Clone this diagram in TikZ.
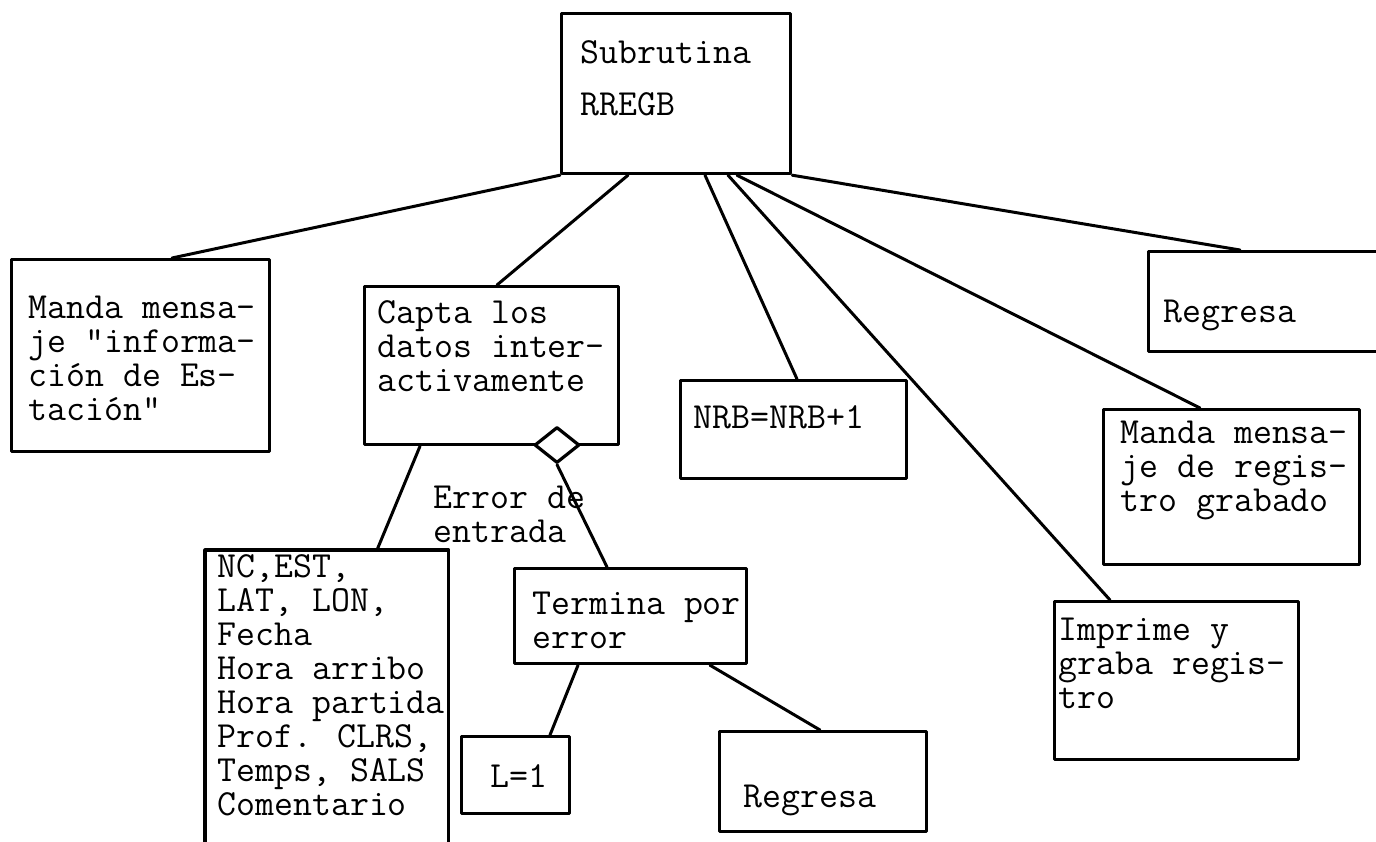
\documentclass[tikz,border=0pt]{standalone}
\usepackage{fontspec}
\usetikzlibrary{shapes.geometric,calc}
\begin{document}
\begin{tikzpicture}[x=0.5pt,y=-0.5pt,
  box/.style={draw, line width=1.6pt, line join=round, rectangle, inner sep=0pt, anchor=north west},
  frame/.style={rectangle, inner sep=0pt, anchor=north west},
  % multi-line texts are placed by the baseline of their last line
  txt/.style={font=\ttfamily\fontsize{18.4pt}{17pt}\selectfont, inner sep=0pt, anchor=base west, align=left},
  link/.style={line width=1.5pt, line cap=round},
  decision/.style={draw, diamond, fill=white, line width=1.6pt, line join=round, inner sep=0pt,
                   minimum width=22.5pt, minimum height=18pt}]
\useasboundingbox (0,0) rectangle (1376,841);
\clip (0,0) rectangle (1376,841);

% boxes
\node[box, minimum width=114.5pt, minimum height=80pt]   (top)   at (560,12)   {};
\node[box, minimum width=129pt,   minimum height=96pt]   (man1)  at (10,258)   {};
\node[box, minimum width=127pt,   minimum height=79pt]   (capta) at (363,285)  {};
\node[box, minimum width=113pt,   minimum height=49pt]   (nrb)   at (679,379)  {};
\node[box, minimum width=122pt,   minimum height=79pt]   (imp)   at (1053,600) {};
\node[box, minimum width=128pt,   minimum height=77.5pt] (reg)   at (1102,408) {};
\node[box, minimum width=126.5pt, minimum height=50pt]   (ret)   at (1147,250) {};
\node[box, minimum width=116pt,   minimum height=47.5pt] (term)  at (513,567)  {};
\node[box, minimum width=54pt,    minimum height=38.5pt] (lone)  at (460,735)  {};
\node[box, minimum width=103.5pt, minimum height=50pt]   (ret2)  at (718,730)  {};
% data list box, open at the bottom
\node[frame, minimum width=121.5pt, minimum height=175pt] (nc) at (205,550) {};
\draw[line width=1.6pt, line join=round] (nc.south west) -- (nc.north west) -- (nc.north east) -- (nc.south east);

% decision diamond on the bottom edge of the input box
\node[decision] (dia) at (557,445) {};

% connectors
\draw[link] (top.south west) -- ($(man1.north west)+(162,0)$);
\draw[link] ($(top.south west)+(68,0)$) -- ($(capta.north west)+(134,0)$);
\draw[link] ($(top.south west)+(145,0)$) -- ($(nrb.north west)+(118,0)$);
\draw[link] ($(top.south west)+(168,0)$) -- ($(imp.north west)+(57,0)$);
\draw[link] ($(top.south west)+(177,0)$) -- ($(reg.north west)+(98,0)$);
\draw[link] (top.south east) -- ($(ret.north west)+(93,0)$);
\draw[link] ($(capta.south west)+(57,0)$) -- ($(nc.north west)+(172,0)$);
\draw[link] (dia.south) -- ($(term.north west)+(94,0)$);
\draw[link] ($(term.south west)+(65,0)$) -- ($(lone.north west)+(90,0)$);
\draw[link] ($(term.south west)+(197,0)$) -- ($(ret2.north west)+(102,0)$);

% texts
\node[txt] (top-t)   at (580,115)  {Subrutina\\[9pt]RREGB};
\node[txt] (man1-t)  at (28,420)   {Manda mensa-\\je "informa-\\ción de Es-\\tación"};
\node[txt] (capta-t) at (377,391)  {Capta los\\datos inter-\\activamente};
\node[txt] (nrb-t)   at (693,428)  {NRB=NRB+1};
\node[txt] (imp-t)   at (1058,708) {Imprime y\\graba regis-\\tro};
\node[txt] (reg-t)   at (1120,511) {Manda mensa-\\je de regis-\\tro grabado};
\node[txt] (ret-t)   at (1163,322) {Regresa};
\node[txt] (nc-t)    at (217,815)  {NC,EST,\\LAT, LON,\\Fecha\\Hora arribo\\Hora partida\\Prof. CLRS,\\Temps, SALS\\Comentario};
\node[txt] (term-t)  at (532,648)  {Termina por\\error};
\node[txt] (lone-t)  at (490,787)  {L=1};
\node[txt] (ret2-t)  at (743,807)  {Regresa};
\node[txt] (err)     at (433,542)  {Error de\\entrada};
\end{tikzpicture}
\end{document}
